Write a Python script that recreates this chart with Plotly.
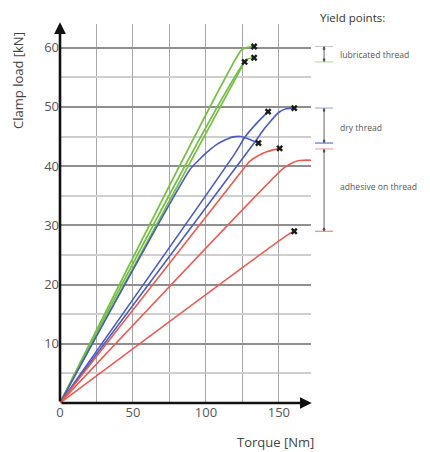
import plotly.graph_objects as go

# ---- data (torque [Nm], clamp load [kN]) ----
green1_x = [0, 124, 127, 133]
green1_y = [0, 59.5, 60.0, 60.2]
green2_x = [0, 128, 133]
green2_y = [0, 58.0, 58.3]
green3_x = [0, 126.5]
green3_y = [0, 57.6]

blue1_x = [0, 89, 95, 100, 107, 113, 118, 124, 130, 136]
blue1_y = [0, 39.4, 41.0, 42.2, 43.6, 44.4, 44.9, 45.0, 44.5, 43.9]
blue2_x = [0, 120, 127, 135, 142.6]
blue2_y = [0, 42.2, 45.0, 47.3, 49.2]
blue3_x = [0, 133, 140, 145, 150, 155, 160.5]
blue3_y = [0, 43.9, 46.3, 47.8, 49.1, 49.7, 49.8]

red1_x = [0, 125, 130, 136, 142.6, 150.5]
red1_y = [0, 39.3, 40.8, 41.8, 42.5, 43.0]
red2_x = [0, 153, 158, 163, 167, 173]
red2_y = [0, 39.6, 40.4, 40.9, 41.0, 41.0]
red3_x = [0, 156, 160.5]
red3_y = [0, 28.4, 29.0]

x_ticks = [0, 50, 100, 150]
y_ticks = [10, 20, 30, 40, 50, 60]

# yield-point ranges (kN)
lub_range = [57.6, 60.2]
dry_range = [43.9, 49.8]
adh_range = [29.0, 42.9]

GREEN = "#74c043"
BLUE = "#4a5cc4"
RED = "#ec5a50"

fig = go.Figure()

series = [
    (green1_x, green1_y, GREEN), (green2_x, green2_y, GREEN), (green3_x, green3_y, GREEN),
    (blue1_x, blue1_y, BLUE), (blue2_x, blue2_y, BLUE), (blue3_x, blue3_y, BLUE),
    (red1_x, red1_y, RED), (red2_x, red2_y, RED), (red3_x, red3_y, RED),
]
for xs, ys, c in series:
    fig.add_trace(go.Scatter(x=xs, y=ys, mode="lines",
                             line=dict(color=c, width=1.7 if c == GREEN else 1.6,
                                       shape="spline", smoothing=0.6),
                             showlegend=False, hoverinfo="skip"))

# yield markers at line ends
fig.add_trace(go.Scatter(
    x=[s[0][-1] for s in series], y=[s[1][-1] for s in series], mode="markers",
    marker=dict(symbol="x", size=6, color="#1a1a1a", line=dict(width=0)),
    showlegend=False, hoverinfo="skip", cliponaxis=False))

fig.update_xaxes(range=[0, 172], tickvals=x_ticks, showgrid=True, gridcolor="#a8a8a8",
                 gridwidth=1.3, minor=dict(dtick=25, tick0=0, showgrid=True, gridcolor="#a8a8a8", gridwidth=1.3),
                 zeroline=False, showline=False, ticks="",
                 tickfont=dict(family="Open Sans", size=13, color="#555"))
fig.update_yaxes(range=[0, 64], tickvals=y_ticks, showgrid=True, gridcolor="#8f8f8f",
                 gridwidth=1.5, minor=dict(dtick=5, tick0=0, showgrid=True, gridcolor="#cfcfcf", gridwidth=1.8),
                 zeroline=False, showline=False, ticks="",
                 tickfont=dict(family="Open Sans", size=13, color="#555"))

ann = []
# axis arrows
ann.append(dict(x=0, y=64.3, ax=0, ay=0, xref="x", yref="y", axref="x", ayref="y", text="",
                showarrow=True, arrowhead=2, arrowsize=0.9, arrowwidth=2.6, arrowcolor="#111"))
ann.append(dict(x=172.5, y=0, ax=0, ay=0, xref="x", yref="y", axref="x", ayref="y", text="",
                showarrow=True, arrowhead=2, arrowsize=0.9, arrowwidth=2.6, arrowcolor="#111"))
# axis titles
ann.append(dict(x=-0.167, y=0.85, xref="paper", yref="paper", text="Clamp load [kN]", textangle=-90,
                xanchor="center", yanchor="middle",
                showarrow=False, font=dict(family="Open Sans", size=13, color="#444")))
ann.append(dict(x=0.857, y=-0.103, xref="paper", yref="paper", text="Torque [Nm]",
                xanchor="center", yanchor="middle",
                showarrow=False, font=dict(family="Open Sans", size=13, color="#444")))
ann.append(dict(x=1.028, y=1.017, xref="paper", yref="paper", text="Yield points:", xanchor="left",
                yanchor="middle",
                showarrow=False, font=dict(family="Open Sans", size=11.5, color="#333")))

shapes = []
def bracket(rng, top_col, bot_col, label, label_y):
    lo, hi = rng
    x0, x1, xm = 1.016, 1.088, 1.052
    shapes.append(dict(type="line", xref="paper", yref="y", x0=x0, x1=x1, y0=hi, y1=hi,
                       line=dict(color=top_col, width=1.2)))
    shapes.append(dict(type="line", xref="paper", yref="y", x0=x0, x1=x1, y0=lo, y1=lo,
                       line=dict(color=bot_col, width=1.2)))
    shapes.append(dict(type="line", xref="paper", yref="y", x0=xm, x1=xm, y0=lo, y1=hi,
                       line=dict(color="#666", width=1)))
    for yy in (lo + 0.35, hi - 0.35):
        shapes.append(dict(type="circle", xref="paper", yref="y", x0=xm - 0.005, x1=xm + 0.005,
                           y0=yy - 0.3, y1=yy + 0.3, fillcolor="#555", line=dict(width=0)))
    ann.append(dict(x=1.108, y=label_y, xref="paper", yref="y", text=label, xanchor="left",
                    yanchor="middle",
                    showarrow=False, font=dict(family="Open Sans", size=8.6, color="#555")))

bracket(lub_range, "#c8c8c8", "#bde0a0", "lubricated thread", 58.8)
bracket(dry_range, "#a8b0dc", "#5f74c8", "dry thread", 46.5)
bracket(adh_range, "#f0a8a0", "#f08a70", "adhesive on thread", 36.5)

# page has an 8px body margin: size the figure so the plot area lands where the reference has it
fig.update_layout(width=422, height=444, margin=dict(l=52, r=119, t=16, b=49),
                  plot_bgcolor="white", paper_bgcolor="white",
                  annotations=ann, shapes=shapes)

fig.write_html("out.html")
